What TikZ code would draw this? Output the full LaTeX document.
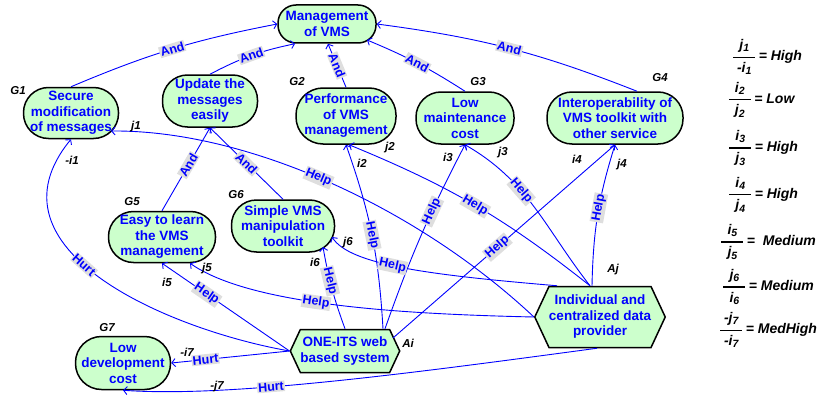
\documentclass[tikz,border=0pt]{standalone}
\usepackage{fontspec}
\setmainfont{Liberation Sans}
\usetikzlibrary{arrows.meta,shapes.symbols}

\definecolor{goalgreen}{rgb}{0.8,1,0.8}
\definecolor{linkblue}{rgb}{0,0,1}
\definecolor{tagback}{rgb}{0.87,0.87,0.87}

\newcommand{\sub}[1]{\raisebox{-2.5pt}{\fontsize{10.5}{11}\selectfont #1}}
\newcommand{\fracval}[3]{$\displaystyle{\hbox to 22pt{\hss#1\hss}\above1.4pt\hbox to 22pt{\hss#2\hss}}$\,=#3}

\begin{document}
\begin{tikzpicture}[x=1pt,y=1pt,
    goal/.style={draw=black, line width=1.5pt, fill=goalgreen, text=linkblue,
        font=\bfseries\fontsize{13.5}{15.5}\selectfont, align=center, inner sep=1pt, rounded corners=#1},
    goal/.default=25pt,
    task/.style={signal, signal to=west and east, signal pointer angle=130, draw=black, line width=1.5pt,
        fill=goalgreen, text=linkblue, font=\bfseries\fontsize{13.5}{15.5}\selectfont, align=center, inner sep=0pt},
    link/.style={draw=linkblue, line width=0.9pt, -{Straight Barb[length=3.5pt,width=8pt]}},
    tag/.style={fill=tagback, text=linkblue, font=\bfseries\fontsize{12.5}{14}\selectfont, inner sep=1pt, sloped},
    lab/.style={font=\bfseries\itshape\fontsize{11.5}{13}\selectfont, inner sep=0pt},
    ratio/.style={font=\bfseries\itshape\fontsize{14}{15}\selectfont, inner sep=0pt}]
    \useasboundingbox (0,0) rectangle (819,400);

    % goals
    \node[goal=18pt, minimum width=98pt, minimum height=38pt] (mgmt) at (327,376) {Management\\of VMS};
    \node[goal, minimum width=95pt, minimum height=51pt] (g1) at (71,287) {Secure\\modification\\of messages};
    \node[goal, minimum width=95pt, minimum height=52pt] (upd) at (210,299) {Update the\\messages\\easily};
    \node[goal=27pt, minimum width=100pt, minimum height=56pt] (g2) at (346,284) {Performance\\of VMS\\management};
    \node[goal, minimum width=98pt, minimum height=52pt] (g3) at (465,282) {Low\\maintenance\\cost};
    \node[goal, minimum width=136pt, minimum height=52pt] (g4) at (615,282) {Interoperability of\\VMS toolkit with\\other service};
    \node[goal, minimum width=107pt, minimum height=51pt] (g5) at (162,163) {Easy to learn\\the VMS\\management};
    \node[goal, minimum width=103pt, minimum height=52pt] (g6) at (283,174) {Simple VMS\\manipulation\\toolkit};
    \node[goal=26pt, minimum width=95pt, minimum height=53pt] (g7) at (123,37) {Low\\development\\cost};

    % alternatives
    \node[task, minimum width=103pt, minimum height=43pt] (ai) at (345,49) {ONE-ITS web\\based system};
    \node[task, minimum width=110pt, minimum height=61pt] (aj) at (600,83) {Individual and\\centralized data\\provider};

    \node[lab] (g1lab) at (18,309) {G1};
    \node[lab] (g2lab) at (297,318) {G2};
    \node[lab] (g3lab) at (478,318) {G3};
    \node[lab] (g4lab) at (660,322) {G4};
    \node[lab] (g5lab) at (132,198) {G5};
    \node[lab] (g6lab) at (236,205) {G6};
    \node[lab] (g7lab) at (107,72) {G7};
    \node[lab] (ailab) at (408,57) {Ai};
    \node[lab] (ajlab) at (613,130) {Aj};

    % and links
    \draw[link] (g1.north) to[bend left=6] node[tag] {And} (mgmt.west);
    \draw[link] (upd.north) to[bend left=8] node[tag] {And} ([xshift=-32pt]mgmt.south);
    \draw[link] (g2.north) -- node[tag] {And} ([xshift=1pt]mgmt.south);
    \draw[link] (g3.north) to[bend right=5] node[tag] {And} ([shift={(40pt,-16pt)}]mgmt.center);
    \draw[link] ([xshift=22pt]g4.north) to[bend right=7] node[tag] {And} (mgmt.east);
    \draw[link] (g5.north) -- node[tag,pos=0.55] {And} (upd.south);
    \draw[link] (g6.north) -- node[tag] {And} (upd.south);

    % contributions
    \draw[link] (aj.west) .. controls (420,190) and (250,270) .. node[tag,pos=0.53] {Help} ([shift={(40pt,-18pt)}]g1.center);
    \draw[link] (ai.west) .. controls (170,70) and (-20,150) .. node[tag,pos=0.56] {Hurt} (g1.south);
    \draw[link] ([xshift=38pt]ai.north) to[bend right=8] node[tag] {Help} (g2.south);
    \draw[link] ([xshift=-10pt]aj.north) to[bend right=8] node[tag] {Help} ([xshift=3pt]g2.south);
    \draw[link] ([xshift=40pt]ai.north) to[bend left=4] node[tag,pos=0.64] {Help} (g3.south);
    \draw[link] ([xshift=-10pt]aj.north) to[out=128,in=-30] node[tag,pos=0.62] {Help} (g3.south);
    \draw[link] ([shift={(48pt,13pt)}]ai.center) -- node[tag,pos=0.47] {Help} (g4.south);
    \draw[link] ([xshift=-8pt]aj.north) to[bend left=8] node[tag,pos=0.55] {Help} (g4.south);
    \draw[link] (ai.west) -- node[tag,pos=0.65] {Help} (g5.south);
    \draw[link] (aj.west) .. controls (400,86) and (250,95) .. node[tag,pos=0.55] {Help} ([xshift=28pt]g5.south);
    \draw[link] (ai.north) to[bend left=5] node[tag,pos=0.6] {Help} ([shift={(40pt,-21pt)}]g6.center);
    \draw[link] ([xshift=-43pt]aj.north) .. controls (430,125) and (350,135) .. node[tag,pos=0.55] {Help} ([shift={(49pt,-11pt)}]g6.center);
    \draw[link] (ai.west) -- node[tag,pos=0.71] {Hurt} (g7.east);
    \draw[link] ([xshift=-3pt]aj.south) .. controls (420,28) and (230,2) .. node[tag,pos=0.63] {Hurt} (g7.south);

    % link ends
    \node[lab] (j1) at (136,273) {j1};
    \node[lab] (i1) at (72,240) {-i1};
    \node[lab] (j2) at (390,252) {j2};
    \node[lab] (i2) at (362,237) {i2};
    \node[lab] (i3) at (448,243) {i3};
    \node[lab] (j3) at (503,247) {j3};
    \node[lab] (i4) at (577,241) {i4};
    \node[lab] (j4) at (622,235) {j4};
    \node[lab] (i5) at (167,118) {i5};
    \node[lab] (j5) at (207,131) {j5};
    \node[lab] (i6) at (315,138) {i6};
    \node[lab] (j6) at (348,157) {j6};
    \node[lab] (i7) at (187,48) {-i7};
    \node[lab] (j7) at (217,13) {-j7};

    % ratios
    \node[ratio] (r1) at (767,343) {\fracval{j\sub{1}}{-i\sub{1}}{ High}};
    \node[ratio] (r2) at (761,300) {\fracval{i\sub{2}}{j\sub{2}}{ Low}};
    \node[ratio] (r3) at (763,252) {\fracval{i\sub{3}}{j\sub{3}}{ High}};
    \node[ratio] (r4) at (763,205) {\fracval{i\sub{4}}{j\sub{4}}{ High}};
    \node[ratio] (r5) at (768,158) {\fracval{i\sub{5}}{j\sub{5}}{\ \ Medium}};
    \node[ratio] (r6) at (768,113) {\fracval{j\sub{6}}{i\sub{6}}{ Medium}};
    \node[ratio] (r7) at (768,70) {\fracval{-j\sub{7}}{-i\sub{7}}{ MedHigh}};
\end{tikzpicture}
\end{document}
